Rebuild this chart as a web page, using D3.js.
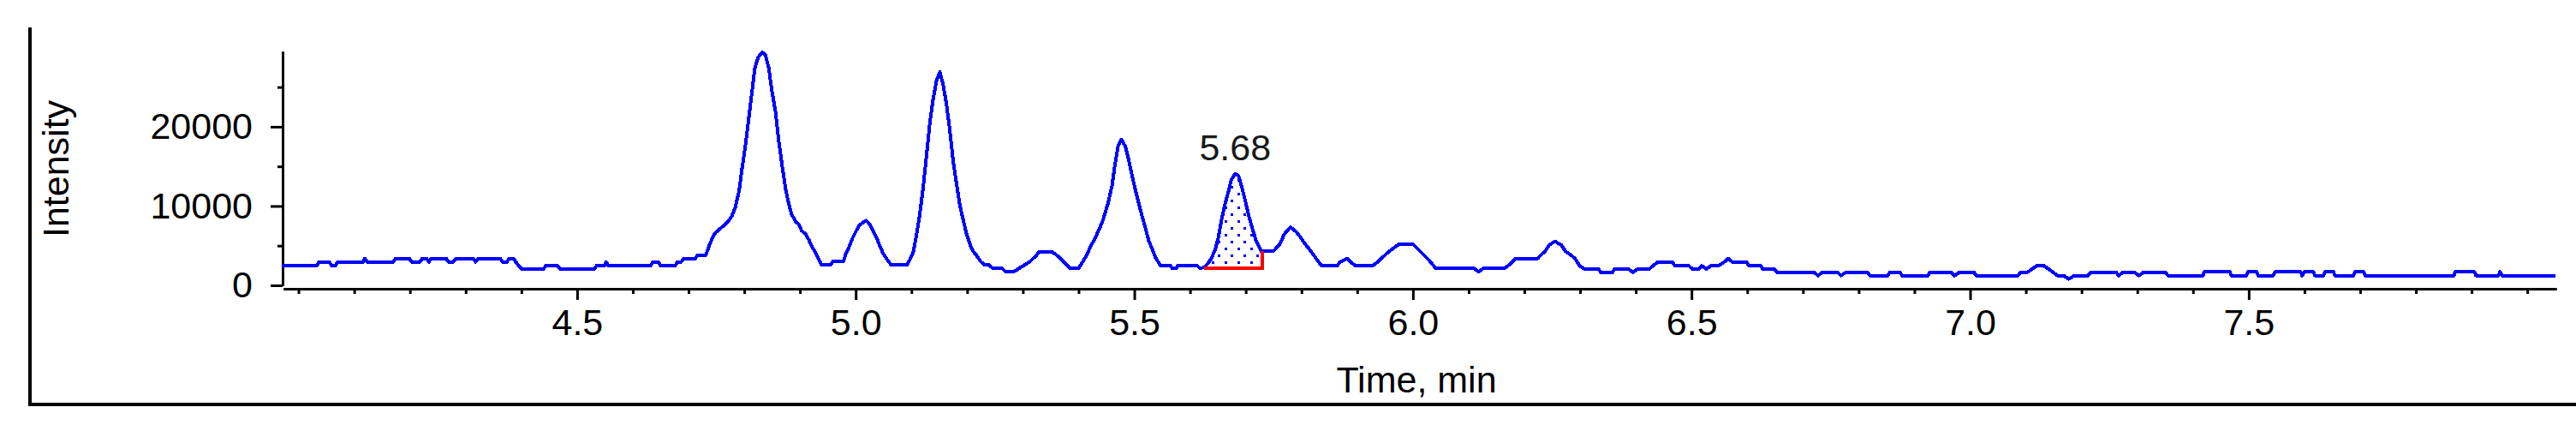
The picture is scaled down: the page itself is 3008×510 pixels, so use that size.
<!DOCTYPE html>
<html>
<head>
<meta charset="utf-8">
<script src="https://cdn.jsdelivr.net/npm/d3@7"></script>
<style>
  html, body { margin: 0; padding: 0; background: #fff; }
  svg { display: block; }
</style>
</head>
<body>
<script>
// retention time (min) and intensity
const timeMin = [
  3.970, 4.033, 4.037, 4.055, 4.060, 4.066, 4.070, 4.116, 4.119, 4.123, 4.170, 4.174,
  4.199, 4.203, 4.218, 4.222, 4.230, 4.234, 4.238, 4.265, 4.269, 4.278, 4.282, 4.314,
  4.318, 4.322, 4.362, 4.366, 4.374, 4.378, 4.386, 4.390, 4.395, 4.400, 4.440, 4.444,
  4.465, 4.469, 4.531, 4.535, 4.549, 4.552, 4.556, 4.632, 4.636, 4.646, 4.650, 4.676,
  4.680, 4.687, 4.691, 4.712, 4.716, 4.731,
  4.737, 4.743, 4.748, 4.754, 4.760, 4.766, 4.773, 4.778, 4.784, 4.791, 4.796, 4.802,
  4.808, 4.814, 4.819, 4.825, 4.832, 4.838, 4.844, 4.849, 4.856, 4.862, 4.868, 4.874,
  4.880, 4.885, 4.892, 4.898, 4.903, 4.910, 4.916, 4.922, 4.928, 4.934, 4.939, 4.955,
  4.959, 4.978, 4.982, 4.988, 4.994, 5.001, 5.006, 5.012, 5.019, 5.025, 5.032, 5.038,
  5.044, 5.050, 5.057, 5.064, 5.092, 5.097, 5.103,
  5.109, 5.115, 5.121, 5.127, 5.133, 5.139, 5.145, 5.151, 5.157, 5.163, 5.169, 5.175,
  5.181, 5.187, 5.193, 5.199, 5.206, 5.211, 5.217, 5.224, 5.232, 5.239, 5.245, 5.262,
  5.268, 5.285, 5.293, 5.303, 5.313, 5.324, 5.329, 5.352, 5.360, 5.370, 5.377, 5.385,
  5.400, 5.408, 5.416, 5.422, 5.429, 5.435, 5.442, 5.447, 5.453, 5.460, 5.465, 5.471,
  5.477, 5.484, 5.490, 5.496, 5.502, 5.508, 5.514, 5.520, 5.526, 5.532, 5.538, 5.544,
  5.547, 5.565, 5.568, 5.575, 5.578, 5.613, 5.618, 5.626, 5.633, 5.638, 5.645, 5.651,
  5.656, 5.662, 5.669, 5.674, 5.681, 5.687, 5.693, 5.700, 5.706, 5.712, 5.718, 5.723,
  5.728, 5.749, 5.754, 5.762, 5.769, 5.780, 5.790, 5.798, 5.805, 5.813, 5.821, 5.828,
  5.836, 5.864, 5.869, 5.882, 5.890, 5.897, 5.928, 5.936, 5.946, 5.956, 5.964, 5.975,
  6.000, 6.008, 6.018, 6.026, 6.033, 6.041, 6.110, 6.118, 6.126, 6.164, 6.171, 6.184,
  6.224,
  6.230, 6.237, 6.245, 6.255, 6.266, 6.274, 6.283, 6.291, 6.299, 6.308, 6.333, 6.337,
  6.358, 6.362, 6.387, 6.395, 6.403, 6.424, 6.431, 6.439, 6.466, 6.470, 6.495, 6.502,
  6.513, 6.518, 6.527, 6.535, 6.549, 6.558, 6.566, 6.574, 6.599, 6.603, 6.624, 6.628,
  6.649, 6.653, 6.720, 6.727, 6.735, 6.762, 6.768, 6.777, 6.816, 6.820, 6.852, 6.856,
  6.874, 6.878, 6.924, 6.928, 6.966, 6.972, 6.981, 7.007, 7.011, 7.086, 7.090, 7.103,
  7.111, 7.120, 7.132, 7.141, 7.149, 7.157, 7.168, 7.177, 7.187, 7.212, 7.216, 7.262,
  7.267, 7.274, 7.295, 7.303, 7.311, 7.351, 7.355, 7.418,
  7.420, 7.466, 7.469, 7.496, 7.499, 7.514, 7.517, 7.544, 7.547, 7.593, 7.596, 7.600,
  7.616, 7.619, 7.634, 7.637, 7.652, 7.655, 7.688, 7.691, 7.706, 7.709, 7.868, 7.871,
  7.905, 7.908, 7.948, 7.951, 7.955, 8.051
]
const intensity = [
  2480, 2480, 2950, 2950, 2480, 2480, 2950, 2950, 3380, 2950, 2950, 3380,
  3380, 2950, 2950, 3380, 3380, 2950, 3380, 3380, 2950, 2950, 3380, 3380,
  2950, 3380, 3380, 2950, 2950, 3380, 3380, 2950, 2480, 2090, 2090, 2480,
  2480, 2090, 2090, 2480, 2480, 2950, 2480, 2480, 2950, 2950, 2480, 2480,
  2950, 2950, 3380, 3380, 3810, 3810,
  5000, 6010, 6620, 6980, 7340, 7700, 8240, 8780, 9860, 12020, 14720, 17600,
  21020, 24480, 27400, 28760, 29400, 29050, 27400, 24800, 21900, 18140, 15080, 12200,
  10220, 8960, 8060, 7700, 6880, 6480, 5720, 4830, 4100, 3200, 2560, 2560,
  3020, 3020, 3920, 4830, 5900, 6880, 7530, 7880, 8170, 7700, 6800, 5900,
  4830, 3920, 3200, 2560, 2560, 3200, 4100,
  6300, 8960, 12300, 16300, 20500, 23500, 25800, 26900, 25300, 22800, 19500, 15600,
  12800, 10040, 8240, 6440, 5000, 4280, 3750, 3020, 2560, 2560, 2200, 2200,
  1760, 1760, 2140, 2560, 3020, 3750, 4210, 4210, 3850, 3200, 2700, 2140,
  2140, 3020, 4000, 5000, 5800, 6800, 7880, 8960, 10400, 12560, 15080, 17600,
  18400, 17500, 15800, 13800, 12000, 10300, 8700, 7200, 5600, 4600, 3500, 2840,
  2480, 2480, 2130, 2130, 2480, 2480, 2130, 2300, 2840, 3380, 4460, 6080,
  8060, 10040, 11840, 13280, 14080, 13820, 12380, 10400, 8600, 7160, 5720, 5000,
  4280, 4280, 4640, 5290, 6440, 7340, 6800, 6080, 5360, 4640, 3920, 3200,
  2480, 2480, 2950, 3380, 2840, 2480, 2480, 2900, 3560, 4210, 4640, 5180,
  5180, 4640, 3920, 3380, 2840, 2130, 2130, 1700, 2130, 2130, 2480, 3380,
  3380,
  3850, 4280, 5110, 5540, 5110, 4280, 3850, 3380, 2480, 2050, 2050, 1650,
  1650, 2050, 2050, 1650, 2050, 2050, 2480, 2900, 2900, 2480, 2480, 2050,
  2050, 2480, 2050, 2480, 2480, 2900, 3380, 2900, 2900, 2480, 2480, 2050,
  2050, 1650, 1650, 1220, 1650, 1650, 1220, 1650, 1650, 1220, 1220, 1650,
  1650, 1220, 1220, 1650, 1650, 1220, 1650, 1650, 1220, 1220, 1650, 1650,
  2050, 2480, 2480, 2050, 1650, 1220, 1220, 790, 1220, 1220, 1650, 1650,
  1220, 1650, 1650, 1220, 1650, 1650, 1220, 1220,
  1700, 1700, 1220, 1220, 1700, 1700, 1220, 1220, 1700, 1700, 1220, 1700,
  1700, 1220, 1220, 1700, 1700, 1220, 1220, 1700, 1700, 1220, 1220, 1700,
  1700, 1220, 1220, 1700, 1220, 1220
]

// integrated peak
const peakLabel = "5.68"
const peakApex = [5.681, 14080]
const peakStart = 5.625
const peakEnd = 5.729
const peakBase = 2130

const xMajorTicks = [4.5, 5.0, 5.5, 6.0, 6.5, 7.0, 7.5]
const xMinorTicks = [4.0, 4.1, 4.2, 4.3, 4.4, 4.6, 4.7, 4.8, 4.9, 5.1, 5.2, 5.3, 5.4,
  5.6, 5.7, 5.8, 5.9, 6.1, 6.2, 6.3, 6.4, 6.6, 6.7, 6.8, 6.9, 7.1, 7.2, 7.3, 7.4,
  7.6, 7.7, 7.8, 7.9, 8.0]
const yMajorTicks = [0, 10000, 20000]
const yMinorTicks = [5000, 15000, 25000]

const width = 3008
const height = 510
const font = "'Liberation Sans', Arial, sans-serif"
const fontSize = 43

const data = timeMin.map((t, i) => ({ t: t, v: intensity[i] }))

const x = d3.scaleLinear()
    .domain([3.973, 8.052])
    .range([331, 2985])
const y = d3.scaleLinear()
    .domain([0, 29500])
    .range([333, 60])

const svg = d3.select('body')
    .append('svg')
    .attr('width', width)
    .attr('height', height)
    .attr('viewBox', [0, 0, width, height])

svg.append('rect')
    .attr('width', width)
    .attr('height', height)
    .attr('fill', '#fff')

// outer frame (left + bottom only)
svg.append('path')
    .attr('d', `M35,32V472H${width}`)
    .attr('fill', 'none')
    .attr('stroke', '#000')
    .attr('stroke-width', 4)

// dotted fill for the integrated peak
const defs = svg.append('defs')
const pat = defs.append('pattern')
    .attr('id', 'dots')
    .attr('patternUnits', 'userSpaceOnUse')
    .attr('x', 5).attr('y', 1)
    .attr('width', 15).attr('height', 16)
pat.append('rect').attr('x', 0).attr('y', 0).attr('width', 3).attr('height', 3).attr('fill', '#0000ff')
pat.append('rect').attr('x', 7).attr('y', 8).attr('width', 3).attr('height', 3).attr('fill', '#0000ff')

defs.append('clipPath')
    .attr('id', 'peakClip')
  .append('rect')
    .attr('x', x(peakStart))
    .attr('y', 0)
    .attr('width', x(peakEnd) - x(peakStart))
    .attr('height', height)

svg.append('path')
    .datum(data)
    .attr('clip-path', 'url(#peakClip)')
    .attr('fill', 'url(#dots)')
    .attr('d', d3.area()
        .x(d => x(d.t))
        .y0(y(peakBase))
        .y1(d => y(Math.max(d.v, peakBase))))

// axes
const styleAxis = g => {
    g.attr('font-family', font).attr('font-size', fontSize)
    g.selectAll('.domain').attr('stroke', '#000').attr('stroke-width', 3)
    g.selectAll('.tick line').attr('stroke', '#000').attr('stroke-width', 3)
    g.selectAll('.tick text').attr('fill', '#000')
}

svg.append('g')
    .attr('transform', 'translate(0,337)')
    .call(d3.axisBottom(x).tickValues(xMinorTicks).tickSize(6).tickSizeOuter(0).tickFormat(''))
    .call(styleAxis)
svg.append('g')
    .attr('transform', 'translate(0,337)')
    .call(d3.axisBottom(x).tickValues(xMajorTicks).tickSize(13).tickSizeOuter(0)
        .tickPadding(10).tickFormat(d3.format('.1f')))
    .call(styleAxis)

svg.append('g')
    .attr('transform', 'translate(330,0)')
    .call(d3.axisLeft(y).tickValues(yMinorTicks).tickSize(6).tickSizeOuter(0).tickFormat(''))
    .call(styleAxis)
svg.append('g')
    .attr('transform', 'translate(330,0)')
    .call(d3.axisLeft(y).tickValues(yMajorTicks).tickSize(14).tickSizeOuter(0)
        .tickPadding(21).tickFormat(d3.format('d')))
    .call(styleAxis)

// trace
svg.append('path')
    .datum(data)
    .attr('fill', 'none')
    .attr('stroke', '#0000ff')
    .attr('stroke-width', 4)
    .attr('stroke-linejoin', 'round')
    .attr('shape-rendering', 'crispEdges')
    .attr('d', d3.line().x(d => x(d.t)).y(d => y(d.v)))

// red integration baseline
const endVal = intensity[timeMin.findIndex(t => t >= peakEnd)]
svg.append('path')
    .attr('d', `M${x(peakStart)},${y(peakBase)}H${x(peakEnd)}V${y(endVal)}`)
    .attr('fill', 'none')
    .attr('stroke', '#ff0000')
    .attr('stroke-width', 4)
    .attr('shape-rendering', 'crispEdges')

svg.append('text')
    .attr('x', x(peakApex[0]))
    .attr('y', 187)
    .attr('text-anchor', 'middle')
    .attr('font-family', font)
    .attr('font-size', fontSize)
    .attr('fill', '#1a1a1a')
    .text(peakLabel)

// axis titles
svg.append('text')
    .attr('transform', 'translate(80,197) rotate(-90)')
    .attr('text-anchor', 'middle')
    .attr('font-family', font)
    .attr('font-size', fontSize)
    .text('Intensity')

svg.append('text')
    .attr('x', 1654)
    .attr('y', 458)
    .attr('text-anchor', 'middle')
    .attr('font-family', font)
    .attr('font-size', fontSize)
    .text('Time, min')
</script>
</body>
</html>
